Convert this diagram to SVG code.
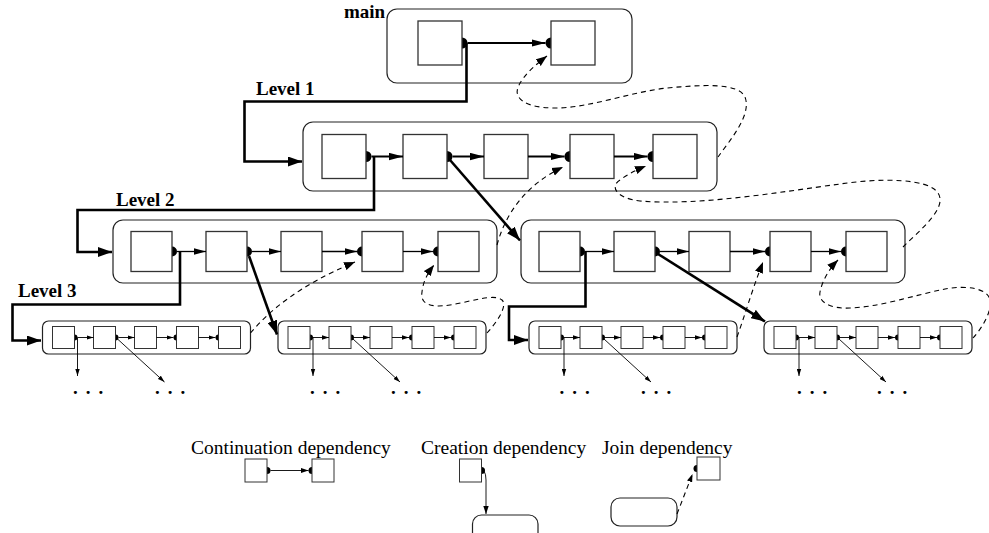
<svg xmlns="http://www.w3.org/2000/svg" width="989" height="533" viewBox="0 0 989 533">
<style>
.box{fill:none;stroke:#222;stroke-width:1.2}
.sq{fill:#fff;stroke:#333;stroke-width:1.3}
.sq3{fill:#fff;stroke:#333;stroke-width:1}
.dot{fill:#000}
.thick{fill:none;stroke:#000;stroke-width:2.6}
.c1{fill:none;stroke:#000;stroke-width:2}
.c2{fill:none;stroke:#000;stroke-width:1.3}
.c3{fill:none;stroke:#000;stroke-width:0.9}
.dash{fill:none;stroke:#000;stroke-width:1.1;stroke-dasharray:5,4}
.lbl{font-family:"Liberation Serif","Times New Roman",serif;font-weight:bold;font-size:19px;fill:#000}
.leg{font-family:"Liberation Serif","Times New Roman",serif;font-size:19.5px;fill:#000}
.ell{font-family:"Liberation Serif","Times New Roman",serif;font-weight:bold;font-size:19px;letter-spacing:1.6px;fill:#000}
.mk{fill:#000;stroke:none}
</style>
<defs>
<marker id="mT" markerUnits="userSpaceOnUse" markerWidth="15" markerHeight="10" refX="14" refY="5" orient="auto"><path class="mk" d="M0,0 L14,5 L0,10 z"/></marker>
<marker id="m1" markerUnits="userSpaceOnUse" markerWidth="15" markerHeight="8" refX="14" refY="4" orient="auto"><path class="mk" d="M0,0.3 L14,4 L0,7.7 z"/></marker>
<marker id="m2" markerUnits="userSpaceOnUse" markerWidth="13" markerHeight="7" refX="12" refY="3.5" orient="auto"><path class="mk" d="M0,0.3 L12,3.5 L0,6.7 z"/></marker>
<marker id="m3" markerUnits="userSpaceOnUse" markerWidth="8" markerHeight="5" refX="7" refY="2.5" orient="auto"><path class="mk" d="M0,0.3 L7,2.5 L0,4.7 z"/></marker>
<marker id="mD" markerUnits="userSpaceOnUse" markerWidth="12" markerHeight="9" refX="11" refY="4.5" orient="auto"><path class="mk" d="M0,0.3 L11,4.5 L0,8.7 z"/></marker>
<marker id="mL" markerUnits="userSpaceOnUse" markerWidth="9" markerHeight="6" refX="8" refY="3" orient="auto"><path class="mk" d="M0,0.3 L8,3 L0,5.7 z"/></marker>
</defs>
<rect width="989" height="533" fill="#fff"/>

<!-- labels -->
<text class="lbl" x="344" y="18">main</text>
<text class="lbl" x="256" y="95">Level 1</text>
<text class="lbl" x="116" y="206">Level 2</text>
<text class="lbl" x="18" y="297">Level 3</text>

<!-- nodes -->
<g id="main">
<rect class="box" x="387" y="9" width="245" height="74" rx="10"/>
<circle class="dot" cx="462" cy="43" r="5.5"/>
<circle class="dot" cx="551" cy="43" r="5.5"/>
<rect class="sq" x="418" y="21" width="44" height="44"/>
<rect class="sq" x="551" y="21" width="44" height="44"/>
</g>

<g id="level1">
<rect class="box" x="303" y="122" width="414" height="69" rx="10"/>
<circle class="dot" cx="366" cy="156.5" r="5.5"/>
<circle class="dot" cx="447" cy="156.5" r="5.5"/>
<circle class="dot" cx="570" cy="156.5" r="5.5"/>
<circle class="dot" cx="653" cy="156.5" r="5.5"/>
<rect class="sq" x="322" y="134.5" width="44" height="44"/>
<rect class="sq" x="403" y="134.5" width="44" height="44"/>
<rect class="sq" x="484" y="134.5" width="44" height="44"/>
<rect class="sq" x="570" y="134.5" width="44" height="44"/>
<rect class="sq" x="653" y="134.5" width="44" height="44"/>
</g>

<g id="level2-left" transform="translate(113,0)">
<rect class="box" x="0" y="220" width="384" height="63" rx="10"/>
<circle class="dot" cx="59" cy="251.5" r="5"/>
<circle class="dot" cx="134" cy="251.5" r="5"/>
<circle class="dot" cx="249" cy="251.5" r="5"/>
<circle class="dot" cx="325" cy="251.5" r="5"/>
<rect class="sq" x="18" y="231.5" width="41" height="40"/>
<rect class="sq" x="93" y="231.5" width="41" height="40"/>
<rect class="sq" x="168" y="231.5" width="41" height="40"/>
<rect class="sq" x="249" y="231.5" width="41" height="40"/>
<rect class="sq" x="325" y="231.5" width="41" height="40"/>
</g>

<g id="level2-right" transform="translate(521,0)">
<rect class="box" x="0" y="220" width="384" height="63" rx="10"/>
<circle class="dot" cx="59" cy="251.5" r="5"/>
<circle class="dot" cx="134" cy="251.5" r="5"/>
<circle class="dot" cx="249" cy="251.5" r="5"/>
<circle class="dot" cx="325" cy="251.5" r="5"/>
<rect class="sq" x="18" y="231.5" width="41" height="40"/>
<rect class="sq" x="93" y="231.5" width="41" height="40"/>
<rect class="sq" x="168" y="231.5" width="41" height="40"/>
<rect class="sq" x="249" y="231.5" width="41" height="40"/>
<rect class="sq" x="325" y="231.5" width="41" height="40"/>
</g>

<g id="level3-a" transform="translate(42.5,0)">
<rect class="box" x="0" y="321" width="208" height="33" rx="6"/>
<circle class="dot" cx="32" cy="337.5" r="3"/>
<circle class="dot" cx="73" cy="337.5" r="3"/>
<circle class="dot" cx="134" cy="337.5" r="3"/>
<circle class="dot" cx="176" cy="337.5" r="3"/>
<rect class="sq3" x="10" y="326.5" width="22" height="22"/>
<rect class="sq3" x="51" y="326.5" width="22" height="22"/>
<rect class="sq3" x="92" y="326.5" width="22" height="22"/>
<rect class="sq3" x="134" y="326.5" width="22" height="22"/>
<rect class="sq3" x="176" y="326.5" width="22" height="22"/>
<text class="ell" x="30.5" y="393.5">. . .</text>
<text class="ell" x="112.5" y="393.5">. . .</text>
</g>

<g id="level3-b" transform="translate(278,0)">
<rect class="box" x="0" y="321" width="208" height="33" rx="6"/>
<circle class="dot" cx="32" cy="337.5" r="3"/>
<circle class="dot" cx="73" cy="337.5" r="3"/>
<circle class="dot" cx="134" cy="337.5" r="3"/>
<circle class="dot" cx="176" cy="337.5" r="3"/>
<rect class="sq3" x="10" y="326.5" width="22" height="22"/>
<rect class="sq3" x="51" y="326.5" width="22" height="22"/>
<rect class="sq3" x="92" y="326.5" width="22" height="22"/>
<rect class="sq3" x="134" y="326.5" width="22" height="22"/>
<rect class="sq3" x="176" y="326.5" width="22" height="22"/>
<text class="ell" x="32" y="393.5">. . .</text>
<text class="ell" x="113" y="393.5">. . .</text>
</g>

<g id="level3-c" transform="translate(529,0)">
<rect class="box" x="0" y="321" width="208" height="33" rx="6"/>
<circle class="dot" cx="32" cy="337.5" r="3"/>
<circle class="dot" cx="73" cy="337.5" r="3"/>
<circle class="dot" cx="134" cy="337.5" r="3"/>
<circle class="dot" cx="176" cy="337.5" r="3"/>
<rect class="sq3" x="10" y="326.5" width="22" height="22"/>
<rect class="sq3" x="51" y="326.5" width="22" height="22"/>
<rect class="sq3" x="92" y="326.5" width="22" height="22"/>
<rect class="sq3" x="134" y="326.5" width="22" height="22"/>
<rect class="sq3" x="176" y="326.5" width="22" height="22"/>
<text class="ell" x="30.5" y="393.5">. . .</text>
<text class="ell" x="112" y="393.5">. . .</text>
</g>

<g id="level3-d" transform="translate(764,0)">
<rect class="box" x="0" y="321" width="208" height="33" rx="6"/>
<circle class="dot" cx="32" cy="337.5" r="3"/>
<circle class="dot" cx="73" cy="337.5" r="3"/>
<circle class="dot" cx="134" cy="337.5" r="3"/>
<circle class="dot" cx="176" cy="337.5" r="3"/>
<rect class="sq3" x="10" y="326.5" width="22" height="22"/>
<rect class="sq3" x="51" y="326.5" width="22" height="22"/>
<rect class="sq3" x="92" y="326.5" width="22" height="22"/>
<rect class="sq3" x="134" y="326.5" width="22" height="22"/>
<rect class="sq3" x="176" y="326.5" width="22" height="22"/>
<text class="ell" x="33" y="393.5">. . .</text>
<text class="ell" x="113" y="393.5">. . .</text>
</g>

<!-- connectors -->
<g id="connectors">
<path class="c1" d="M467.5 43H545.5" marker-end="url(#m1)"/>
<path class="thick" d="M466.5 43V101.5H244.5V161.5H302" marker-end="url(#mT)"/>
<path class="c1" d="M371.5 156.5H403" marker-end="url(#m1)"/>
<path class="c1" d="M452.5 156.5H484" marker-end="url(#m1)"/>
<path class="c1" d="M528 156.5H564.5" marker-end="url(#m1)"/>
<path class="c1" d="M614 156.5H647.5" marker-end="url(#m1)"/>
<path class="thick" d="M374 156.5V210H77.5V252H112" marker-end="url(#mT)"/>
<path class="thick" d="M450 160L520 240.5" marker-end="url(#mT)"/>
<g transform="translate(113,0)">
<path class="c2" d="M64 251.5H93" marker-end="url(#m2)"/>
<path class="c2" d="M139 251.5H168" marker-end="url(#m2)"/>
<path class="c2" d="M209 251.5H244" marker-end="url(#m2)"/>
<path class="c2" d="M290 251.5H320" marker-end="url(#m2)"/>
</g>
<g transform="translate(521,0)">
<path class="c2" d="M64 251.5H93" marker-end="url(#m2)"/>
<path class="c2" d="M139 251.5H168" marker-end="url(#m2)"/>
<path class="c2" d="M209 251.5H244" marker-end="url(#m2)"/>
<path class="c2" d="M290 251.5H320" marker-end="url(#m2)"/>
</g>
<path class="thick" d="M180 251.5V304.5H12.5V340.5H41" marker-end="url(#mT)"/>
<path class="thick" d="M585.5 251.5V306.5H509V340H528" marker-end="url(#mT)"/>
<path class="thick" d="M249 256L277 334.5" marker-end="url(#mT)"/>
<path class="thick" d="M658 254L765 321.5" marker-end="url(#mT)"/>
<g transform="translate(42.5,0)">
<path class="c3" d="M35 337.5H51" marker-end="url(#m3)"/>
<path class="c3" d="M76 337.5H92" marker-end="url(#m3)"/>
<path class="c3" d="M114 337.5H131" marker-end="url(#m3)"/>
<path class="c3" d="M156 337.5H173" marker-end="url(#m3)"/>
<path class="c3" d="M35 337.5V376" marker-end="url(#m3)"/>
<path class="c3" d="M75 339L122 382" marker-end="url(#m3)"/>
</g>
<g transform="translate(278,0)">
<path class="c3" d="M35 337.5H51" marker-end="url(#m3)"/>
<path class="c3" d="M76 337.5H92" marker-end="url(#m3)"/>
<path class="c3" d="M114 337.5H131" marker-end="url(#m3)"/>
<path class="c3" d="M156 337.5H173" marker-end="url(#m3)"/>
<path class="c3" d="M35 337.5V376" marker-end="url(#m3)"/>
<path class="c3" d="M75 339L122 382" marker-end="url(#m3)"/>
</g>
<g transform="translate(529,0)">
<path class="c3" d="M35 337.5H51" marker-end="url(#m3)"/>
<path class="c3" d="M76 337.5H92" marker-end="url(#m3)"/>
<path class="c3" d="M114 337.5H131" marker-end="url(#m3)"/>
<path class="c3" d="M156 337.5H173" marker-end="url(#m3)"/>
<path class="c3" d="M35 337.5V376" marker-end="url(#m3)"/>
<path class="c3" d="M75 339L122 382" marker-end="url(#m3)"/>
</g>
<g transform="translate(764,0)">
<path class="c3" d="M35 337.5H51" marker-end="url(#m3)"/>
<path class="c3" d="M76 337.5H92" marker-end="url(#m3)"/>
<path class="c3" d="M114 337.5H131" marker-end="url(#m3)"/>
<path class="c3" d="M156 337.5H173" marker-end="url(#m3)"/>
<path class="c3" d="M35 337.5V376" marker-end="url(#m3)"/>
<path class="c3" d="M75 339L122 382" marker-end="url(#m3)"/>
</g>
<!-- join dependencies -->
<path class="dash" d="M718 157C730 140 752 115 745 97C738 82 700 85 667 88C630 92 590 108 555 108C525 108 512 98 519 85C524 75 535 65 547 56" marker-end="url(#mD)"/>
<path class="dash" d="M497 245C505 215 525 185 563 167" marker-end="url(#mD)"/>
<path class="dash" d="M903 247C920 230 948 208 938 193C928 178 880 178 840 184C780 192 700 206 640 201C615 198 610 186 620 180C628 174 636 170 646 166" marker-end="url(#mD)"/>
<path class="dash" d="M250.5 333C270 310 300 285 355 262" marker-end="url(#mD)"/>
<path class="dash" d="M487 333C497 322 508 306 502 300C494 293 470 302 450 305C430 308 420 304 422 292C423 282 427 274 434 265" marker-end="url(#mD)"/>
<path class="dash" d="M737 337C745 315 752 290 763 262" marker-end="url(#mD)"/>
<path class="dash" d="M973 338C982 328 992 312 990 300C988 288 965 285 945 289C915 295 880 307 850 308C830 309 818 302 820 292C822 282 828 270 838 260" marker-end="url(#mD)"/>
</g>

<!-- legend -->
<g id="legend-continuation">
<text class="leg" x="191" y="454">Continuation dependency</text>
<circle class="dot" cx="267" cy="470.5" r="3.5"/>
<circle class="dot" cx="312" cy="470.5" r="3.5"/>
<rect class="sq3" x="245" y="459" width="22" height="23"/>
<rect class="sq3" x="312" y="459" width="22" height="23"/>
<path class="c3" d="M270.5 470.5H308.5" marker-end="url(#mL)"/>
</g>
<g id="legend-creation">
<text class="leg" x="421" y="454">Creation dependency</text>
<circle class="dot" cx="481.5" cy="470.5" r="3.5"/>
<rect class="sq3" x="459.5" y="459" width="22" height="23"/>
<path class="c3" d="M484 471Q486 474 486 480V514" marker-end="url(#mL)"/>
<rect class="box" x="472.5" y="515" width="65.5" height="40" rx="9"/>
</g>
<g id="legend-join">
<text class="leg" x="602" y="454">Join dependency</text>
<circle class="dot" cx="697" cy="468.5" r="3.5"/>
<rect class="sq3" x="697" y="457" width="23" height="23"/>
<rect class="box" x="611" y="498" width="66" height="28" rx="9"/>
<path class="dash" d="M677 514L692.5 474" marker-end="url(#mL)"/>
</g>
</svg>
